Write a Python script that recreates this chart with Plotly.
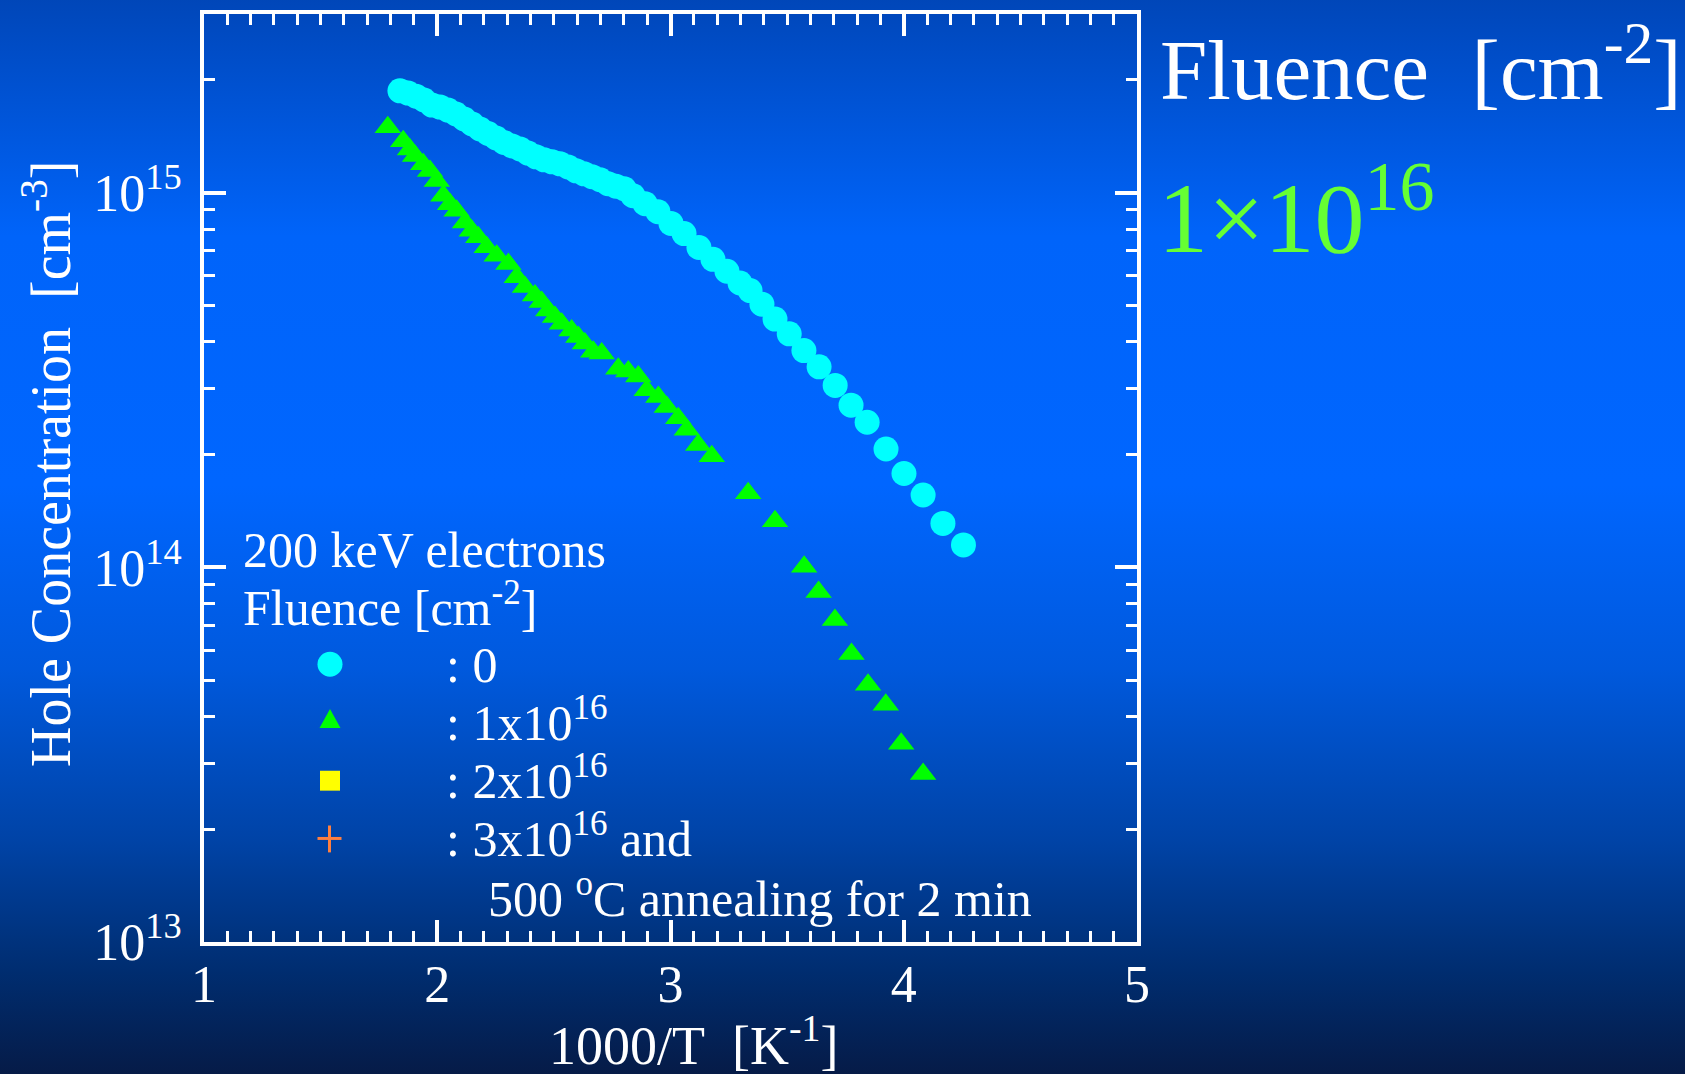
import base64
import plotly.graph_objects as go

# ---------------- data ----------------
fluence0_x = [1.840, 1.875, 1.909, 1.943, 1.977, 2.012, 2.046, 2.080, 2.115, 2.149,
              2.183, 2.218, 2.252, 2.286, 2.320, 2.355, 2.389, 2.423, 2.458, 2.492,
              2.526, 2.561, 2.595, 2.629, 2.663, 2.698, 2.732, 2.766, 2.801, 2.839,
              2.891, 2.946, 3.002, 3.058, 3.122, 3.182, 3.242, 3.298, 3.341, 3.392,
              3.448, 3.509, 3.572, 3.637, 3.706, 3.774, 3.843, 3.924, 4.001, 4.083,
              4.168, 4.256]
fluence0_y = [1.87e15, 1.845e15, 1.81e15, 1.768e15, 1.714e15, 1.693e15, 1.662e15, 1.622e15,
              1.574e15, 1.526e15, 1.480e15, 1.439e15, 1.400e15, 1.362e15, 1.333e15, 1.309e15,
              1.276e15, 1.247e15, 1.224e15, 1.209e15, 1.194e15, 1.172e15, 1.144e15, 1.123e15,
              1.103e15, 1.083e15, 1.057e15, 1.041e15, 1.025e15, 9.82e14, 9.35e14, 8.90e14,
              8.28e14, 7.78e14, 7.14e14, 6.64e14, 6.17e14, 5.74e14, 5.48e14, 5.04e14,
              4.60e14, 4.20e14, 3.79e14, 3.43e14, 3.06e14, 2.71e14, 2.44e14, 2.07e14,
              1.78e14, 1.56e14, 1.31e14, 1.148e14]

fluence1_x = [1.788, 1.854, 1.883, 1.905, 1.940, 1.969, 1.998, 2.026, 2.055, 2.083,
              2.119, 2.148, 2.176, 2.212, 2.255, 2.305, 2.341, 2.376, 2.419, 2.448,
              2.476, 2.505, 2.534, 2.576, 2.605, 2.633, 2.669, 2.705, 2.776, 2.819,
              2.862, 2.898, 2.948, 2.984, 3.033, 3.070, 3.119, 3.177, 3.333, 3.448,
              3.573, 3.635, 3.705, 3.776, 3.847, 3.923, 3.989, 4.083]
fluence1_y = [1.496e15, 1.373e15, 1.305e15, 1.253e15, 1.191e15, 1.143e15, 1.075e15, 9.81e14,
              9.32e14, 8.95e14, 8.33e14, 7.91e14, 7.60e14, 7.15e14, 6.79e14, 6.45e14,
              5.95e14, 5.60e14, 5.32e14, 5.11e14, 4.85e14, 4.66e14, 4.47e14, 4.29e14,
              4.12e14, 3.96e14, 3.76e14, 3.72e14, 3.39e14, 3.33e14, 3.23e14, 2.97e14,
              2.85e14, 2.68e14, 2.50e14, 2.33e14, 2.12e14, 1.98e14, 1.578e14, 1.327e14,
              1.003e14, 8.59e13, 7.24e13, 5.87e13, 4.86e13, 4.30e13, 3.38e13, 2.81e13]

x_tickvals = [1, 2, 3, 4, 5]
x_ticktext = ["1", "2", "3", "4", "5"]
y_tickvals = [1e13, 1e14, 1e15]
y_ticktext = ["10<sup>13</sup>", "10<sup>14</sup>", "10<sup>15</sup>"]

legend_header = ["200 keV electrons", "Fluence [cm<sup>-2</sup>]"]
legend_labels = [": 0", ": 1x10<sup>16</sup>", ": 2x10<sup>16</sup>", ": 3x10<sup>16</sup> and"]
legend_extra = "500 <sup>o</sup>C annealing for 2 min"

# ---------------- layout helpers ----------------
W, H = 1685, 1074
L, R, T, B = 204, 548, 10, 132
PW, PH = W - L - R, H - T - B


def px(x):
    return (x - L) / PW


def py(y):
    return (H - B - y) / PH


FONT = "Liberation Serif, Times New Roman, serif"
WHITE = "#ffffff"
CYAN = "#00ffff"
GREEN = "#00ff00"
YELLOW = "#ffff00"
ORANGE = "#ff7f3f"

fig = go.Figure()
fig.add_trace(go.Scatter(x=fluence0_x, y=fluence0_y, mode="markers", name="0",
                         marker=dict(symbol="circle", size=25, color=CYAN, line=dict(width=0))))
fig.add_trace(go.Scatter(x=fluence1_x, y=fluence1_y, mode="markers", name="1x10^16",
                         marker=dict(symbol="triangle-up", size=23, color=GREEN, line=dict(width=0))))

axis_common = dict(
    showline=True, linecolor=WHITE, linewidth=4, mirror="ticks",
    ticks="inside", ticklen=22, tickwidth=3.5, tickcolor=WHITE,
    showgrid=False, zeroline=False,
    tickfont=dict(family=FONT, size=52, color=WHITE),
)

fig.update_xaxes(range=[1, 5], tickmode="array", tickvals=x_tickvals, ticktext=x_ticktext,
                 ticklabelstandoff=-6,
                 minor=dict(dtick=0.1, tick0=1, ticks="inside", ticklen=11, tickwidth=3,
                            tickcolor=WHITE, showgrid=False),
                 **axis_common)
fig.update_yaxes(type="log", range=[13, 15.477], tickmode="array", tickvals=y_tickvals,
                 ticktext=y_ticktext, ticklabelstandoff=8,
                 minor=dict(dtick="D1", ticks="inside", ticklen=11, tickwidth=3,
                            tickcolor=WHITE, showgrid=False),
                 **axis_common)

# gradient background (SVG image)
stops = [(0.0, "#0046b8"), (0.22, "#0064fa"), (0.45, "#0066ff"), (0.62, "#0059dd"),
         (0.78, "#0043a6"), (0.9, "#002d70"), (1.0, "#061a45")]
stop_str = "".join(f"<stop offset='{o}' stop-color='{c}'/>" for o, c in stops)
svg = (f"<svg xmlns='http://www.w3.org/2000/svg' width='{W}' height='{H}' viewBox='0 0 {W} {H}' "
       f"preserveAspectRatio='none'><defs><linearGradient id='g' x1='0' y1='0' x2='0' y2='1'>"
       f"{stop_str}</linearGradient></defs><rect x='0' y='0' width='{W}' height='{H}' fill='url(#g)'/></svg>")
src = "data:image/svg+xml;base64," + base64.b64encode(svg.encode()).decode()

annotations = []


def ann(text, x, y, size, color=WHITE, xanchor="left", yanchor="middle", angle=0):
    annotations.append(dict(text=text, x=px(x), y=py(y), xref="paper", yref="paper",
                            xanchor=xanchor, yanchor=yanchor, showarrow=False, textangle=angle,
                            font=dict(family=FONT, size=size, color=color)))


# axis titles
ann("1000/T\u00a0\u00a0[K<sup>-1</sup>]", 693, 1042, 54, xanchor="center")
ann("Hole Concentration\u00a0\u00a0[cm<sup>-3</sup>]", 47, 462, 56, xanchor="center", angle=-90)

# right-side texts
ann("Fluence\u00a0\u00a0[cm<sup>-2</sup>]", 1158, 60, 85)
ann("1×10<sup>16</sup>", 1156, 208, 100, color="#66ff33")

# legend texts
ann(legend_header[0], 241, 548, 50)
ann(legend_header[1], 241, 603, 50)
label_y = [664, 719, 777, 835]
for t, yy in zip(legend_labels, label_y):
    ann(t, 444, yy, 50)
ann(legend_extra, 486, 895, 50)

# legend keys
shapes = []
shapes.append(dict(type="circle", xref="paper", yref="paper", x0=px(317.5), x1=px(342.5),
                   y0=py(675.5), y1=py(650.5), fillcolor=CYAN, line=dict(width=0)))
tri = f"M {px(330)} {py(708)} L {px(340.5)} {py(727)} L {px(319.5)} {py(727)} Z"
shapes.append(dict(type="path", xref="paper", yref="paper", path=tri, fillcolor=GREEN,
                   line=dict(width=0)))
shapes.append(dict(type="rect", xref="paper", yref="paper", x0=px(320), x1=px(340),
                   y0=py(790), y1=py(770), fillcolor=YELLOW, line=dict(width=0)))
shapes.append(dict(type="line", xref="paper", yref="paper", x0=px(317.5), x1=px(341.5),
                   y0=py(838), y1=py(838), line=dict(color=ORANGE, width=3)))
shapes.append(dict(type="line", xref="paper", yref="paper", x0=px(329.5), x1=px(329.5),
                   y0=py(825), y1=py(852), line=dict(color=ORANGE, width=3)))

pad = 6
fig.update_layout(
    width=W, height=H,
    margin=dict(l=L, r=R, t=T, b=B),
    paper_bgcolor="#0046b8",
    plot_bgcolor="rgba(0,0,0,0)",
    showlegend=False,
    images=[dict(source=src, xref="paper", yref="paper", x=px(-pad), y=py(-pad),
                 sizex=(W + 2 * pad) / PW, sizey=(H + 2 * pad) / PH, sizing="stretch",
                 xanchor="left", yanchor="top", layer="below")],
    annotations=annotations,
    shapes=shapes,
)

fig.write_html("out.html", config={"displayModeBar": False},
               post_script="document.body.style.margin='0px';document.body.style.overflow='hidden';")
